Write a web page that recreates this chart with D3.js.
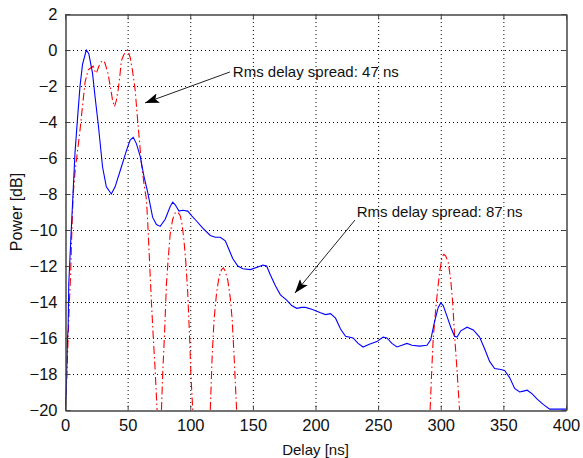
<!DOCTYPE html>
<html>
<head>
<meta charset="utf-8">
<script src="https://cdn.jsdelivr.net/npm/d3@7"></script>
<style>
  body { margin: 0; background: #fff; }
  svg { display: block; font-family: "Liberation Sans", Arial, sans-serif; }
</style>
</head>
<body>
<div id="graph_here"></div>
<script>
// x ticks / y ticks
const xTicks = [0, 50, 100, 150, 200, 250, 300, 350, 400];
const yTicks = [-20, -18, -16, -14, -12, -10, -8, -6, -4, -2, 0, 2];

// blue: measured profile [delay ns, power dB]
const bluePts = [[0,-20],[1,-19],[2,-16],[2.5,-15.5],[3,-13],[4,-11.5],[5,-10],[6.4,-8],[8,-5.7],[10,-3.8],[12,-2],[14,-0.8],[17,0],[19,-0.2],[22,-1.3],[24,-2.6],[26.5,-4.1],[30,-6.5],[33,-7.6],[37,-8],[40,-7.6],[45,-6.5],[49,-5.6],[52,-5],[54.5,-4.85],[57,-5.2],[60,-5.9],[63,-7],[66,-7.9],[70,-9.3],[73,-9.7],[76,-9.8],[80,-9.4],[84,-8.7],[86,-8.45],[88,-8.6],[91,-8.95],[94,-8.9],[98,-8.95],[101,-9.2],[105,-9.5],[110,-9.9],[116,-10.3],[120,-10.4],[124,-10.4],[128,-10.6],[131,-11.1],[134,-11.6],[138,-12],[142,-12.15],[148,-12.2],[154,-12.05],[158,-11.95],[161,-12],[164,-12.5],[168,-13.1],[172,-13.6],[177,-13.9],[181,-14.2],[185,-14.35],[189,-14.3],[192,-14.3],[197,-14.4],[204,-14.6],[208,-14.7],[212,-14.65],[216,-14.9],[220,-15.5],[224,-15.9],[230,-16],[234,-16.3],[238,-16.5],[243,-16.35],[249,-16.2],[254,-15.95],[257,-16],[261,-16.3],[265,-16.5],[269,-16.4],[273,-16.3],[277,-16.4],[283,-16.45],[289,-16.4],[292,-16.1],[295,-15.1],[298,-14.3],[300,-14.05],[302,-14.2],[305,-14.8],[308,-15.4],[311,-15.9],[313,-15.95],[316,-15.6],[321,-15.4],[326,-15.55],[331,-15.95],[335,-16.6],[339,-17.3],[343,-17.7],[348,-17.75],[351,-17.8],[355,-18.2],[359,-18.8],[363,-19],[366,-18.95],[369,-18.9],[373,-19.1],[377,-19.4],[382,-19.7],[387,-19.95],[400,-19.95]];

// red: second profile, null = below the axis (gap)
const redPts = [[0.3,-20],[1,-19],[2,-17],[3,-15],[3.5,-14],[4.5,-12.5],[5.5,-10],[6.5,-8],[8,-6.8],[10,-5.6],[12,-4.45],[14,-3.1],[16,-1.8],[18.5,-1.1],[20.5,-1],[22.5,-0.9],[24,-1.2],[25,-1.3],[27,-0.9],[29,-0.65],[31,-0.6],[32,-0.75],[34,-1.2],[36,-1.95],[38,-2.8],[39.5,-3.15],[41,-2.8],[42.5,-2.2],[44,-1.3],[45,-0.6],[47,-0.25],[49,-0.05],[50,0],[52,-0.4],[54,-1.2],[56,-2.2],[58,-3.9],[61,-6.3],[63,-7.4],[65,-8.3],[66,-9.5],[67,-11],[69,-14],[70.5,-16],[72,-17.8],[73.5,-20],[75,null],
  [77,-20],[78,-18],[79.5,-15.7],[81,-13],[82.5,-11.5],[84,-10.2],[86,-9.4],[88,-9.05],[90,-9],[92,-9.2],[93.5,-9.7],[95,-10.6],[96.5,-11.8],[98,-13.5],[99.5,-16],[100.5,-18],[102,-20],[110,null],
  [116,-20],[117.5,-17],[119,-15],[121,-13.5],[123,-12.6],[125,-12.2],[126.5,-12.1],[128,-12.3],[130,-12.8],[132,-13.8],[133.5,-15],[135,-17],[137,-20],[200,null],
  [291.5,-20],[293,-17.5],[294,-16],[296.5,-14],[299,-12.4],[301,-11.5],[302.5,-11.35],[304,-11.45],[306,-11.8],[308,-12.8],[309.5,-14],[311,-15.8],[313,-17.8],[315,-20]];

// annotations: text anchor and arrow tail/tip in data units
const notes = [
  {label: "Rms delay spread: 47 ns", tx: 134, ty: -1.5, x0: 131.7, y0: -1.22, x1: 63.9, y1: -2.94},
  {label: "Rms delay spread: 87 ns", tx: 232.9, ty: -9.26, x0: 231.5, y0: -9.45, x1: 183.6, y1: -13.5}
];

function drawChart(){
    const width = 583, height = 458;
    const margin = {left: 65, top: 14, right: 17, bottom: 48};

    var svg = d3.select('#graph_here')
        .append('svg')
        .attr('width', width)
        .attr('height', height);

    const x = d3.scaleLinear().domain([0, 400]).range([margin.left, width - margin.right]);
    const y = d3.scaleLinear().domain([-20, 2]).range([height - margin.bottom, margin.top]);

    svg.append('clipPath').attr('id', 'clip')
        .append('rect')
        .attr('x', x(0)).attr('y', y(2))
        .attr('width', x(400) - x(0)).attr('height', y(-20) - y(2));

    // dotted grid
    svg.append('g').selectAll('line')
        .data(xTicks.slice(1, -1))
        .enter().append('line')
        .attr('x1', d => x(d) + 0.5).attr('x2', d => x(d) + 0.5)
        .attr('y1', y(2)).attr('y2', y(-20))
        .attr('stroke', '#000').attr('stroke-dasharray', '1,3');
    svg.append('g').selectAll('line')
        .data(yTicks.slice(1, -1))
        .enter().append('line')
        .attr('y1', d => y(d) + 0.5).attr('y2', d => y(d) + 0.5)
        .attr('x1', x(0)).attr('x2', x(400))
        .attr('stroke', '#000').attr('stroke-dasharray', '1,3');

    const line = d3.line()
        .defined(d => d[1] !== null)
        .x(d => x(d[0]))
        .y(d => y(d[1]));

    const plot = svg.append('g').attr('clip-path', 'url(#clip)');
    plot.append('path')
        .attr('d', line(redPts))
        .attr('fill', 'none')
        .attr('stroke', '#ff0000')
        .attr('stroke-width', 1.1)
        .attr('stroke-dasharray', '8,3,1.5,3');
    plot.append('path')
        .attr('d', line(bluePts))
        .attr('fill', 'none')
        .attr('stroke', '#0000ff')
        .attr('stroke-width', 1.1);

    // axes, ticks inside on all four sides
    const axisCol = '#444';
    const fmt = d3.format('d');
    svg.append('g')
        .attr('transform', 'translate(0,' + (y(-20) + 0.5) + ')')
        .call(d3.axisBottom(x).tickValues(xTicks).tickFormat(fmt).tickSizeInner(-5).tickSizeOuter(0).tickPadding(9));
    svg.append('g')
        .attr('transform', 'translate(0,' + (y(2) + 0.5) + ')')
        .call(d3.axisTop(x).tickValues(xTicks).tickFormat('').tickSizeInner(-5).tickSizeOuter(0));
    svg.append('g')
        .attr('transform', 'translate(' + (x(0) + 0.5) + ',0)')
        .call(d3.axisLeft(y).tickValues(yTicks).tickFormat(fmt).tickSizeInner(-5).tickSizeOuter(0).tickPadding(8));
    svg.append('g')
        .attr('transform', 'translate(' + (x(400) + 0.5) + ',0)')
        .call(d3.axisRight(y).tickValues(yTicks).tickFormat('').tickSizeInner(-5).tickSizeOuter(0));

    svg.selectAll('.domain').attr('stroke', axisCol).attr('stroke-width', 1.5);
    svg.selectAll('.tick line').attr('stroke', axisCol);
    svg.selectAll('.tick text')
        .attr('fill', '#111')
        .style('font-size', '16.5px')
        .style('font-family', '"Liberation Sans", Arial, sans-serif');

    // axis labels
    svg.append('text')
        .attr('x', (x(0) + x(400)) / 2)
        .attr('y', 455)
        .attr('text-anchor', 'middle')
        .style('font-size', '15px')
        .attr('fill', '#111')
        .text('Delay [ns]');
    svg.append('text')
        .attr('transform', 'translate(22,' + ((y(2) + y(-20)) / 2) + ') rotate(-90)')
        .attr('text-anchor', 'middle')
        .style('font-size', '16px')
        .attr('fill', '#111')
        .text('Power [dB]');

    // annotation arrows
    const head = svg.append('defs').append('marker')
        .attr('id', 'head')
        .attr('viewBox', '0 0 14 10')
        .attr('refX', 14).attr('refY', 5)
        .attr('markerWidth', 14).attr('markerHeight', 10)
        .attr('markerUnits', 'userSpaceOnUse')
        .attr('orient', 'auto');
    head.append('path').attr('d', 'M0,0 L14,5 L0,10 L3,5 Z').attr('fill', '#000');

    const ann = svg.append('g').selectAll('g').data(notes).enter().append('g');
    ann.append('line')
        .attr('x1', d => x(d.x0)).attr('y1', d => y(d.y0))
        .attr('x2', d => x(d.x1)).attr('y2', d => y(d.y1))
        .attr('stroke', '#222')
        .attr('stroke-width', 1)
        .attr('marker-end', 'url(#head)');
    ann.append('text')
        .attr('x', d => x(d.tx)).attr('y', d => y(d.ty))
        .style('font-size', '15px')
        .attr('fill', '#111')
        .text(d => d.label);
}

window.addEventListener('load', drawChart);
</script>
</body>
</html>
